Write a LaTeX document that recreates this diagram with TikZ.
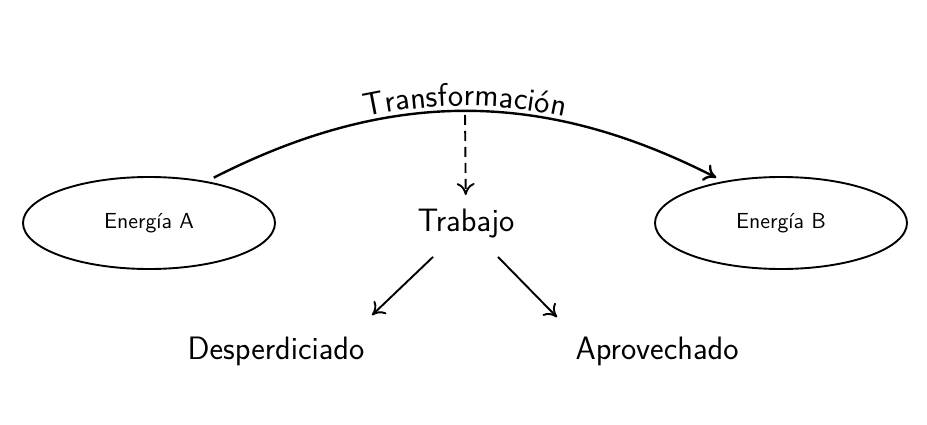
\documentclass[tikz,border=0pt]{standalone}
\usepackage{fontspec}
\usetikzlibrary{arrows.meta, shapes, decorations.text}

\begin{document}
\begin{tikzpicture}[x=0.5pt, y=0.5pt,
  >={To[length=6pt,width=9pt]},
  energia/.style={draw, line width=0.95pt, ellipse, minimum width=126pt, minimum height=46pt, outer sep=3pt, font=\sffamily\fontsize{10.9}{13}\selectfont},
  etiqueta/.style={font=\sffamily\fontsize{16.2}{19}\selectfont, inner sep=3pt}]
  \useasboundingbox (0,0) rectangle (927,424);

  \node[energia] (enA) at (149,201) {Energía A};
  \node[energia] (enB) at (781,201) {Energía B};
  \node[etiqueta] (trab) at (466,200) {Trabajo};
  \node[etiqueta] (desp) at (276,73) {Desperdiciado};
  \node[etiqueta] (aprov) at (657,73) {Aprovechado};

  \draw[->, line width=1.2pt] (enA.35) to[bend left=27] coordinate[pos=0.5] (cima) (enB.145);
  \path[decorate, decoration={text along path, text align=center, raise=2.5pt,
      text={|\sffamily\fontsize{16.2}{19}\selectfont|Transformación}}]
    (enA.35) to[bend left=27] (enB.145);

  \draw[->, line width=0.95pt, dash pattern=on 5pt off 3pt, shorten <= 2pt, shorten >= 4pt] (cima) -- (trab);
  \draw[->, line width=0.95pt] ([shift={(-33,-12)}]trab.south) -- ([shift={(96,15)}]desp.north);
  \draw[->, line width=0.95pt] ([shift={(32,-12)}]trab.south) -- ([shift={(-100,13)}]aprov.north);
\end{tikzpicture}
\end{document}
